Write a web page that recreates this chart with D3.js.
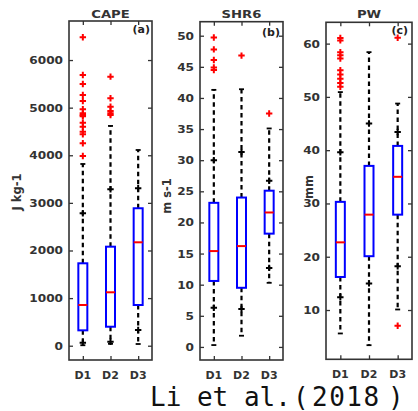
<!DOCTYPE html>
<html>
<head>
<meta charset="utf-8">
<script src="https://cdn.jsdelivr.net/npm/d3@7"></script>
<style>
  html, body { margin: 0; padding: 0; background: #fff; }
  svg { display: block; }
</style>
</head>
<body>
<svg id="chart" width="418" height="411"></svg>
<script>
// Groups shared by all three panels
const categories = ["D1", "D2", "D3"];

// CAPE (J kg-1)
const capeQ1 = [323, 399, 855];
const capeMedian = [855, 1122, 2172];
const capeQ3 = [1731, 2080, 2887];
const capeWhiskerLo = [10, 40, 36];
const capeWhiskerHi = [3817, 4616, 4111];
const capeMarkLo = [63, 84, 330];
const capeMarkHi = [2781, 3286, 3307];
const capeOutliers = [
  [6480, 5687, 5498, 5267, 5141, 4966, 4880, 4847, 4820, 4685, 4600, 4496, 4441, 4252, 3985],
  [5651, 5198, 5021, 4931, 4882, 4847],
  []
];
const capeTicks = [0, 1000, 2000, 3000, 4000, 5000, 6000];

// SHR6 (m s-1)
const shrQ1 = [10.6, 9.5, 18.2];
const shrMedian = [15.4, 16.2, 21.6];
const shrQ3 = [23.15, 24.0, 25.1];
const shrWhiskerLo = [0.3, 1.8, 10.3];
const shrWhiskerHi = [41.3, 41.4, 35.1];
const shrMarkLo = [6.3, 6.1, 12.7];
const shrMarkHi = [30.0, 31.3, 26.7];
const shrOutliers = [
  [49.7, 47.8, 46.1, 44.9, 44.5],
  [46.8],
  [37.5]
];
const shrTicks = [0, 5, 10, 15, 20, 25, 30, 35, 40, 45, 50];

// PW (mm)
const pwQ1 = [16.2, 20.1, 27.9];
const pwMedian = [22.7, 27.9, 35.0];
const pwQ3 = [30.3, 37.05, 40.8];
const pwWhiskerLo = [5.6, 3.4, 10.1];
const pwWhiskerHi = [50.9, 58.4, 48.75];
const pwMarkLo = [12.4, 15.0, 18.2];
const pwMarkHi = [39.6, 45.0, 43.4];
const pwOutliers = [
  [61.05, 60.6, 58.4, 57.8, 57.2, 55.0, 54.2, 53.4, 52.6, 51.9],
  [],
  [61.1, 7.05]
];
const pwTicks = [10, 20, 30, 40, 50, 60];

const panels = [
  { title: "CAPE", tag: "(a)", unit: "J kg-1", q1: capeQ1, med: capeMedian, q3: capeQ3,
    wlo: capeWhiskerLo, whi: capeWhiskerHi, mlo: capeMarkLo, mhi: capeMarkHi, out: capeOutliers,
    ticks: capeTicks, domain: [-300, 6820], left: 69, right: 152, top: 21, bottom: 360,
    unitX: 21, unitY: 192, tagX: 150, tagY: 33 },
  { title: "SHR6", tag: "(b)", unit: "m s-1", q1: shrQ1, med: shrMedian, q3: shrQ3,
    wlo: shrWhiskerLo, whi: shrWhiskerHi, mlo: shrMarkLo, mhi: shrMarkHi, out: shrOutliers,
    ticks: shrTicks, domain: [-2.1, 52.25], left: 200, right: 283, top: 21.7, bottom: 360,
    unitX: 170.5, unitY: 196, tagX: 280, tagY: 36 },
  { title: "PW", tag: "(c)", unit: "mm", q1: pwQ1, med: pwMedian, q3: pwQ3,
    wlo: pwWhiskerLo, whi: pwWhiskerHi, mlo: pwMarkLo, mhi: pwMarkHi, out: pwOutliers,
    ticks: pwTicks, domain: [0.75, 64], left: 326, right: 412, top: 22.3, bottom: 359.3,
    unitX: 312.5, unitY: 187, tagX: 408, tagY: 34 }
];

const svg = d3.select("#chart");
const axisColor = "#333";
const labelFont = "'DejaVu Sans', sans-serif";

// Bold label at (x, y), optionally widened horizontally
function boldText(g, x, y, str, anchor, size, sx) {
  return g.append("text")
    .attr("transform", `translate(${x},${y}) scale(${sx},1)`)
    .attr("text-anchor", anchor)
    .attr("font-family", labelFont)
    .attr("font-weight", "bold")
    .attr("font-size", size)
    .attr("fill", axisColor)
    .text(str);
}

function plus(g, x, y, color, size, width) {
  g.append("path")
    .attr("d", `M${x - size},${y}H${x + size}M${x},${y - size}V${y + size}`)
    .attr("stroke", color)
    .attr("stroke-width", width)
    .attr("fill", "none");
}

panels.forEach(p => {
  const g = svg.append("g");
  const x = d3.scalePoint().domain(categories).range([p.left, p.right]).padding(0.5);
  const y = d3.scaleLinear().domain(p.domain).range([p.bottom, p.top]);
  const tickLen = 4;

  // left axis: ticks point into the plot, labels outside
  const yAxis = d3.axisLeft(y).tickValues(p.ticks).tickSize(-tickLen).tickFormat(d3.format("d"));
  const ga = g.append("g").attr("transform", `translate(${p.left},0)`).call(yAxis);
  ga.select(".domain").remove();
  ga.selectAll(".tick line").attr("stroke", axisColor).attr("stroke-width", 1.3);
  ga.selectAll(".tick text").remove();
  p.ticks.forEach(t => boldText(g, p.left - 6, y(t) + 4, String(t), "end", 11, 1.1));

  // right axis ticks
  const gr = g.append("g").attr("transform", `translate(${p.right},0)`)
    .call(d3.axisRight(y).tickValues(p.ticks).tickSize(-tickLen).tickFormat(""));
  gr.select(".domain").remove();
  gr.selectAll(".tick line").attr("stroke", axisColor).attr("stroke-width", 1.3);

  // bottom and top ticks at the groups
  const gb = g.append("g").attr("transform", `translate(0,${p.bottom})`)
    .call(d3.axisBottom(x).tickSize(-tickLen).tickFormat(""));
  gb.select(".domain").remove();
  gb.selectAll(".tick line").attr("stroke", axisColor).attr("stroke-width", 1.3);
  const gt = g.append("g").attr("transform", `translate(0,${p.top})`)
    .call(d3.axisTop(x).tickSize(-tickLen).tickFormat(""));
  gt.select(".domain").remove();
  gt.selectAll(".tick line").attr("stroke", axisColor).attr("stroke-width", 1.3);
  categories.forEach(c => boldText(g, x(c), p.bottom + 19, c, "middle", 11, 1.0));

  // frame
  g.append("rect")
    .attr("x", p.left).attr("y", p.top)
    .attr("width", p.right - p.left).attr("height", p.bottom - p.top)
    .attr("fill", "none").attr("stroke", axisColor).attr("stroke-width", 1.6);

  const boxHalf = 4.5, capHalf = 2.5;
  categories.forEach((c, i) => {
    const cx = x(c);
    // dashed whiskers
    [[p.q3[i], p.whi[i]], [p.q1[i], p.wlo[i]]].forEach(([a, b]) => {
      g.append("line")
        .attr("x1", cx).attr("x2", cx).attr("y1", y(a)).attr("y2", y(b))
        .attr("stroke", "#000").attr("stroke-width", 2.2)
        .attr("stroke-dasharray", "4.5,3.5");
    });
    // whisker caps
    [p.whi[i], p.wlo[i]].forEach(v => {
      g.append("line")
        .attr("x1", cx - capHalf).attr("x2", cx + capHalf)
        .attr("y1", y(v)).attr("y2", y(v))
        .attr("stroke", "#000").attr("stroke-width", 1.8);
    });
    // black percentile markers
    [p.mhi[i], p.mlo[i]].forEach(v => plus(g, cx, y(v), "#000", 3.2, 2));
    // box
    g.append("rect")
      .attr("x", cx - boxHalf).attr("y", y(p.q3[i]))
      .attr("width", boxHalf * 2).attr("height", y(p.q1[i]) - y(p.q3[i]))
      .attr("fill", "#fff").attr("stroke", "#0000ff").attr("stroke-width", 2);
    // median
    g.append("line")
      .attr("x1", cx - boxHalf).attr("x2", cx + boxHalf)
      .attr("y1", y(p.med[i])).attr("y2", y(p.med[i]))
      .attr("stroke", "#ff0000").attr("stroke-width", 2);
    // outliers
    p.out[i].forEach(v => plus(g, cx, y(v), "#ff0000", 3.2, 2));
  });

  // title, panel tag, unit
  boldText(g, (p.left + p.right) / 2, 17.5, p.title, "middle", 11, 1.2);
  boldText(g, p.tagX, p.tagY, p.tag, "end", 11, 1.0).attr("fill", "#222");
  g.append("text")
    .attr("transform", `translate(${p.unitX},${p.unitY}) rotate(-90)`)
    .attr("text-anchor", "middle")
    .attr("font-family", labelFont)
    .attr("font-weight", "bold")
    .attr("font-size", 11.5)
    .attr("fill", axisColor)
    .text(p.unit);
});

// citation line, monospaced, with wide-set parentheses around the year
const cite = svg.append("text")
  .attr("y", 406)
  .attr("font-family", "'DejaVu Sans Mono', monospace")
  .attr("font-size", 26)
  .attr("fill", "#111");
cite.append("tspan").attr("x", 150).text("Li et al.");
cite.append("tspan").attr("x", 293).text("(");
cite.append("tspan").attr("x", 312).attr("letter-spacing", 1.5).text("2018");
cite.append("tspan").attr("x", 388).text(")");
</script>
</body>
</html>
